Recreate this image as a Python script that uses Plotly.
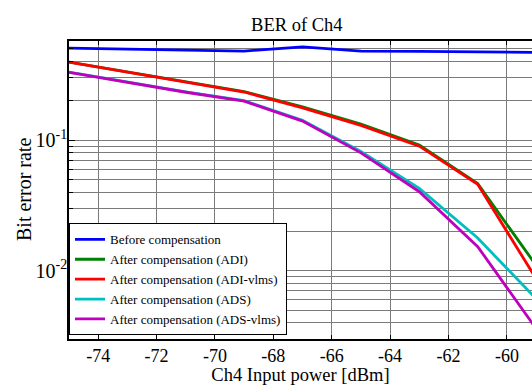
import plotly.graph_objects as go

x_power = [-75, -73, -71, -69, -67, -65, -63, -61, -59]

ber_before = [0.508, 0.500, 0.494, 0.482, 0.518, 0.481, 0.479, 0.477, 0.471]
ber_adi = [0.397, 0.334, 0.280, 0.236, 0.180, 0.133, 0.092, 0.0465, 0.0110]
ber_adi_vlms = [0.397, 0.333, 0.278, 0.234, 0.177, 0.130, 0.090, 0.0459, 0.0087]
ber_ads = [0.333, 0.280, 0.235, 0.201, 0.142, 0.082, 0.0428, 0.0178, 0.0061]
ber_ads_vlms = [0.331, 0.278, 0.233, 0.199, 0.140, 0.080, 0.0403, 0.0153, 0.0036]

series_names = [
    "Before compensation",
    "After compensation (ADI)",
    "After compensation (ADI-vlms)",
    "After compensation (ADS)",
    "After compensation (ADS-vlms)",
]
series_values = [ber_before, ber_adi, ber_adi_vlms, ber_ads, ber_ads_vlms]
series_colors = ["#0000ff", "#008000", "#ff0000", "#00bfbf", "#bf00bf"]

x_tickvals = [-74, -72, -70, -68, -66, -64, -62, -60]
x_ticktext = ["-74", "-72", "-70", "-68", "-66", "-64", "-62", "-60"]

y_tickvals = [0.01, 0.1]
y_ticktext = ["10<sup>-2</sup>", "10<sup>-1</sup>"]

FONT = "Liberation Serif"
GRID = "#7a7a7a"

fig = go.Figure()
for name, vals, col in zip(series_names, series_values, series_colors):
    fig.add_trace(go.Scatter(
        x=x_power, y=vals, mode="lines", name=name,
        line=dict(color=col, width=2.8),
    ))

fig.update_layout(
    width=532, height=385,
    margin=dict(l=69, r=0, t=41, b=46, autoexpand=False),
    paper_bgcolor="white", plot_bgcolor="white",
    font=dict(family=FONT, color="black", size=18),
    title=dict(text="BER of Ch4", x=0.492, xref="paper", xanchor="center",
               y=1 - 25 / 385, yref="container", yanchor="middle",
               font=dict(family=FONT, size=18.5, color="black")),
    showlegend=True,
    legend=dict(x=0, y=0.012, xanchor="left", yanchor="bottom",
                bgcolor="white", bordercolor="black", borderwidth=1,
                font=dict(family=FONT, size=13, color="black"),
                tracegroupgap=0, itemwidth=30),
    annotations=[dict(text="Bit error rate", textangle=-90,
                      xref="paper", yref="paper", x=(24 - 69) / 463, y=0.5,
                      xanchor="center", yanchor="middle", showarrow=False,
                      font=dict(family=FONT, size=20, color="black"))],
)

fig.update_xaxes(
    range=[-75, -59.14], automargin=False,
    tickmode="array", tickvals=x_tickvals, ticktext=x_ticktext,
    ticks="inside", ticklen=4, tickcolor="black",
    showline=True, linecolor="black", linewidth=1.5, mirror="ticks",
    showgrid=True, gridcolor=GRID, gridwidth=1,
    zeroline=False,
    tickfont=dict(family=FONT, size=18, color="black"),
    title=dict(text="Ch4 Input power [dBm]",
               font=dict(family=FONT, size=18.5, color="black")),
)

fig.update_yaxes(
    type="log", automargin=False,
    range=[-2.523, -0.240],
    tickmode="array", tickvals=y_tickvals, ticktext=y_ticktext,
    ticks="inside", ticklen=6, tickcolor="black",
    minor=dict(dtick="D1", showgrid=True, gridcolor=GRID, gridwidth=1,
               ticks="inside", ticklen=4, tickcolor="black"),
    showline=True, linecolor="black", linewidth=1.5, mirror=False,
    showgrid=True, gridcolor=GRID, gridwidth=1,
    zeroline=False,
    tickfont=dict(family=FONT, size=20, color="black"),
    ticklabelstandoff=-4,
)

fig.write_html("out.html", config={"displayModeBar": False},
               post_script="document.body.style.margin='0';document.body.style.overflow='hidden';")
